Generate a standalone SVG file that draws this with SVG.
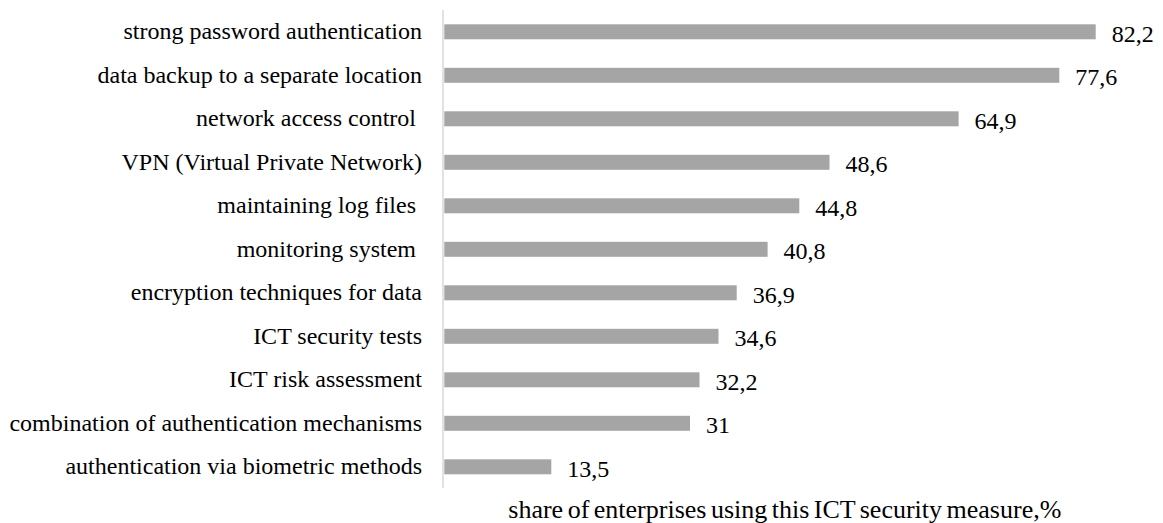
<svg xmlns="http://www.w3.org/2000/svg" width="1163" height="523" viewBox="0 0 1163 523">
<style>
.bg{fill:#ffffff}
.bar{fill:#a5a5a5}
.axis{stroke:#d9d9d9;stroke-width:1.5;fill:none}
.cat{font-family:"Liberation Serif","Times New Roman",serif;font-size:24px;fill:#000;text-anchor:end;white-space:pre}
.val{font-family:"Liberation Serif","Times New Roman",serif;font-size:24px;fill:#000}
.title{font-family:"Liberation Serif","Times New Roman",serif;font-size:26px;fill:#000;word-spacing:-2px}
</style>
<rect class="bg" x="0" y="0" width="1163" height="523"/>
<g id="axis">
<line class="axis" x1="443" y1="10" x2="443" y2="488"/>
</g>
<g id="bars">
<g id="bar1"><rect class="bar" x="444.3" y="24.3" width="651.4" height="15"/><text class="cat" x="422" y="39.3">strong password authentication</text><text class="val" x="1111.7" y="41.7">82,2</text></g>
<g id="bar2"><rect class="bar" x="444.3" y="67.8" width="615" height="15"/><text class="cat" x="422" y="82.8">data backup to a separate location</text><text class="val" x="1075.3" y="85.2">77,6</text></g>
<g id="bar3"><rect class="bar" x="444.3" y="111.3" width="514.3" height="15"/><text class="cat" x="422" y="126.3" xml:space="preserve">network access control </text><text class="val" x="974.6" y="128.7">64,9</text></g>
<g id="bar4"><rect class="bar" x="444.3" y="154.8" width="385.2" height="15"/><text class="cat" x="422" y="169.8">VPN (Virtual Private Network)</text><text class="val" x="845.5" y="172.2">48,6</text></g>
<g id="bar5"><rect class="bar" x="444.3" y="198.3" width="355" height="15"/><text class="cat" x="422" y="213.3" xml:space="preserve">maintaining log files </text><text class="val" x="815.3" y="215.7">44,8</text></g>
<g id="bar6"><rect class="bar" x="444.3" y="241.8" width="323.3" height="15"/><text class="cat" x="422" y="256.8" xml:space="preserve">monitoring system </text><text class="val" x="783.6" y="259.2">40,8</text></g>
<g id="bar7"><rect class="bar" x="444.3" y="285.3" width="292.4" height="15"/><text class="cat" x="422" y="300.3">encryption techniques for data</text><text class="val" x="752.7" y="302.7">36,9</text></g>
<g id="bar8"><rect class="bar" x="444.3" y="328.8" width="274.2" height="15"/><text class="cat" x="422" y="343.8">ICT security tests</text><text class="val" x="734.5" y="346.2">34,6</text></g>
<g id="bar9"><rect class="bar" x="444.3" y="372.3" width="255.2" height="15"/><text class="cat" x="422" y="387.3">ICT risk assessment</text><text class="val" x="715.5" y="389.7">32,2</text></g>
<g id="bar10"><rect class="bar" x="444.3" y="415.8" width="245.7" height="15"/><text class="cat" x="422" y="430.8">combination of authentication mechanisms</text><text class="val" x="706" y="433.2">31</text></g>
<g id="bar11"><rect class="bar" x="444.3" y="459.3" width="107" height="15"/><text class="cat" x="422" y="474.3">authentication via biometric methods</text><text class="val" x="567.3" y="476.7">13,5</text></g>
</g>
<g id="axis-title">
<text class="title" x="508.3" y="518">share of enterprises using this ICT security measure,%</text>
</g>
</svg>
